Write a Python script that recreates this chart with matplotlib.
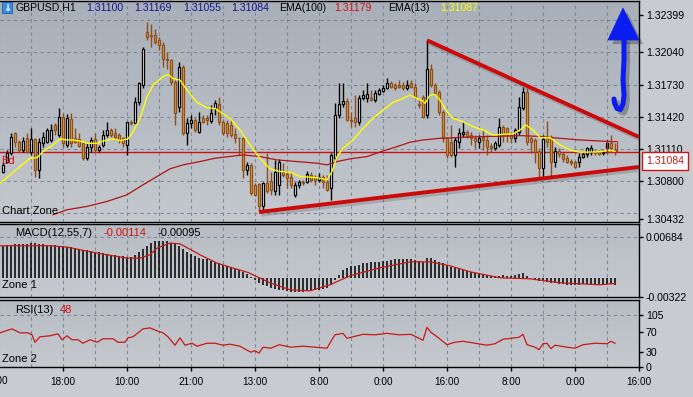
import numpy as np
import matplotlib
matplotlib.use("Agg")
import matplotlib.pyplot as plt
from matplotlib import patheffects as pe
from matplotlib.patches import Rectangle, Polygon
from matplotlib.colors import LinearSegmentedColormap
from matplotlib import font_manager as fm

# ---------------- data ----------------
opens = [1.30892, 1.30988, 1.31068, 1.31260, 1.31180, 1.31100, 1.31212, 1.31084, 1.31206, 1.30908,
         1.31164, 1.31180, 1.31196, 1.31340, 1.31244, 1.31420, 1.31148, 1.31398, 1.31212, 1.31206,
         1.31164, 1.31020, 1.31132, 1.31206, 1.31100, 1.31148, 1.31244, 1.31292, 1.31260, 1.31244,
         1.31212, 1.31148, 1.31372, 1.31356, 1.31564, 1.31724, 1.32236, 1.32204, 1.32204, 1.32156,
         1.32108, 1.31980, 1.31964, 1.31756, 1.31516, 1.31900, 1.31260, 1.31356, 1.31388, 1.31276,
         1.31404, 1.31404, 1.31378, 1.31500, 1.31538, 1.31372, 1.31356, 1.31340, 1.31250, 1.31218,
         1.31218, 1.30908, 1.30956, 1.30764, 1.30770, 1.30556, 1.30780, 1.30802, 1.30700, 1.30764,
         1.30892, 1.30866, 1.30844, 1.30668, 1.30758, 1.30796, 1.30796, 1.30860, 1.30844, 1.30812,
         1.30844, 1.30796, 1.30732, 1.31020, 1.31436, 1.31538, 1.31570, 1.31388, 1.31404, 1.31372,
         1.31596, 1.31602, 1.31602, 1.31580, 1.31634, 1.31666, 1.31698, 1.31740, 1.31724, 1.31724,
         1.31724, 1.31692, 1.31740, 1.31708, 1.31538, 1.31612, 1.31436, 1.31884, 1.31724, 1.31660,
         1.31468, 1.31212, 1.31180, 1.31052, 1.31180, 1.31250, 1.31270, 1.31244, 1.31218, 1.31180,
         1.31228, 1.31196, 1.31142, 1.31116, 1.31148, 1.31324, 1.31308, 1.31244, 1.31212, 1.31276,
         1.31506, 1.31660, 1.31212, 1.31196, 1.31090, 1.30924, 1.31228, 1.31212, 1.30988, 1.31090,
         1.31058, 1.31026, 1.30994, 1.30988, 1.30988, 1.31036, 1.31058, 1.31084, 1.31090, 1.31084,
         1.31068, 1.31116, 1.31164, 1.31100]
highs = [1.30988, 1.31100, 1.31260, 1.31270, 1.31196, 1.31228, 1.31260, 1.31308, 1.31212, 1.31212,
         1.31276, 1.31308, 1.31346, 1.31356, 1.31506, 1.31452, 1.31442, 1.31452, 1.31308, 1.31260,
         1.31180, 1.31164, 1.31228, 1.31260, 1.31148, 1.31292, 1.31372, 1.31308, 1.31308, 1.31260,
         1.31228, 1.31372, 1.31388, 1.31612, 1.31756, 1.32092, 1.32332, 1.32316, 1.32268, 1.32188,
         1.32140, 1.32044, 1.31980, 1.31772, 1.31948, 1.31916, 1.31404, 1.31436, 1.31404, 1.31468,
         1.31436, 1.31436, 1.31532, 1.31580, 1.31612, 1.31388, 1.31388, 1.31388, 1.31308, 1.31228,
         1.31228, 1.30988, 1.30972, 1.30780, 1.30780, 1.30796, 1.31068, 1.30892, 1.31004, 1.31014,
         1.30972, 1.30908, 1.30892, 1.30796, 1.30812, 1.30812, 1.30898, 1.30892, 1.30860, 1.30876,
         1.30860, 1.30860, 1.31068, 1.31548, 1.31740, 1.31740, 1.31596, 1.31468, 1.31628, 1.31628,
         1.31676, 1.31740, 1.31676, 1.31676, 1.31692, 1.31724, 1.31794, 1.31762, 1.31740, 1.31772,
         1.31756, 1.31772, 1.31772, 1.31740, 1.31580, 1.31628, 1.32156, 1.31932, 1.31740, 1.31676,
         1.31484, 1.31228, 1.31340, 1.31228, 1.31308, 1.31372, 1.31292, 1.31276, 1.31244, 1.31244,
         1.31292, 1.31244, 1.31164, 1.31186, 1.31404, 1.31340, 1.31324, 1.31276, 1.31308, 1.31612,
         1.31708, 1.31692, 1.31228, 1.31218, 1.31116, 1.31244, 1.31378, 1.31244, 1.31132, 1.31116,
         1.31084, 1.31052, 1.31014, 1.30994, 1.31068, 1.31084, 1.31132, 1.31148, 1.31100, 1.31100,
         1.31100, 1.31196, 1.31244, 1.31169]
lows = [1.30876, 1.30972, 1.31052, 1.31132, 1.31084, 1.31084, 1.31068, 1.31052, 1.30844, 1.30828,
        1.31132, 1.31164, 1.31180, 1.31244, 1.31228, 1.31132, 1.31132, 1.31132, 1.31164, 1.31132,
        1.31004, 1.31004, 1.31084, 1.31084, 1.31084, 1.31132, 1.31228, 1.31228, 1.31196, 1.31164,
        1.31132, 1.31052, 1.31340, 1.31356, 1.31532, 1.31692, 1.32156, 1.32092, 1.32124, 1.32060,
        1.31900, 1.31884, 1.31724, 1.31340, 1.31468, 1.31244, 1.31148, 1.31308, 1.31276, 1.31260,
        1.31356, 1.31340, 1.31356, 1.31436, 1.31340, 1.31244, 1.31228, 1.31228, 1.31164, 1.31052,
        1.30828, 1.30860, 1.30668, 1.30652, 1.30508, 1.30508, 1.30684, 1.30668, 1.30668, 1.30668,
        1.30844, 1.30732, 1.30732, 1.30642, 1.30732, 1.30764, 1.30780, 1.30796, 1.30764, 1.30796,
        1.30732, 1.30700, 1.30620, 1.30988, 1.31404, 1.31516, 1.31378, 1.31324, 1.31324, 1.31340,
        1.31580, 1.31564, 1.31570, 1.31564, 1.31628, 1.31654, 1.31686, 1.31692, 1.31676, 1.31692,
        1.31676, 1.31676, 1.31692, 1.31596, 1.31500, 1.31404, 1.31404, 1.31708, 1.31628, 1.31436,
        1.31180, 1.31020, 1.31036, 1.30940, 1.31116, 1.31228, 1.31212, 1.31148, 1.31116, 1.31116,
        1.31100, 1.31052, 1.31084, 1.31100, 1.31132, 1.31180, 1.31180, 1.31164, 1.31180, 1.31244,
        1.31484, 1.31148, 1.31068, 1.30972, 1.30828, 1.30844, 1.31132, 1.30844, 1.30940, 1.31036,
        1.30988, 1.30972, 1.30956, 1.30924, 1.30940, 1.31020, 1.31036, 1.31052, 1.31052, 1.31052,
        1.31052, 1.31068, 1.31084, 1.31055]
closes = [1.30956, 1.31068, 1.31228, 1.31180, 1.31100, 1.31186, 1.31084, 1.31206, 1.30908, 1.31180,
          1.31228, 1.31292, 1.31292, 1.31292, 1.31420, 1.31164, 1.31404, 1.31164, 1.31180, 1.31142,
          1.31020, 1.31132, 1.31196, 1.31100, 1.31132, 1.31244, 1.31292, 1.31244, 1.31228, 1.31196,
          1.31164, 1.31372, 1.31356, 1.31564, 1.31740, 1.32076, 1.32188, 1.32198, 1.32140, 1.32108,
          1.31974, 1.31964, 1.31756, 1.31452, 1.31900, 1.31260, 1.31356, 1.31388, 1.31292, 1.31372,
          1.31372, 1.31388, 1.31452, 1.31548, 1.31372, 1.31260, 1.31260, 1.31244, 1.31212, 1.31212,
          1.30908, 1.30956, 1.30684, 1.30668, 1.30556, 1.30780, 1.30700, 1.30716, 1.30892, 1.30988,
          1.30860, 1.30828, 1.30764, 1.30764, 1.30796, 1.30780, 1.30866, 1.30812, 1.30812, 1.30844,
          1.30796, 1.30716, 1.31052, 1.31436, 1.31538, 1.31570, 1.31388, 1.31378, 1.31372, 1.31596,
          1.31628, 1.31634, 1.31580, 1.31644, 1.31676, 1.31698, 1.31740, 1.31708, 1.31692, 1.31708,
          1.31692, 1.31730, 1.31708, 1.31612, 1.31532, 1.31420, 1.31884, 1.31724, 1.31644, 1.31468,
          1.31212, 1.31052, 1.31052, 1.31196, 1.31260, 1.31270, 1.31238, 1.31212, 1.31186, 1.31218,
          1.31196, 1.31132, 1.31116, 1.31164, 1.31324, 1.31244, 1.31244, 1.31212, 1.31292, 1.31516,
          1.31660, 1.31180, 1.31180, 1.31084, 1.30924, 1.31206, 1.31180, 1.30988, 1.31090, 1.31058,
          1.31014, 1.30988, 1.30972, 1.30940, 1.31036, 1.31058, 1.31116, 1.31116, 1.31068, 1.31058,
          1.31084, 1.31164, 1.31116, 1.31084]

ema13_idx = [-0.75, 1.75, 4.25, 6.75, 8.5, 10, 12.5, 14.25, 16, 17.25, 19.25, 21, 23.5, 25, 27.5,
             29.25, 31.25, 32.5, 34.25, 36, 37.5, 40, 41.25, 42.5, 44.25, 46, 48.5, 51, 53, 54.25,
             56.75, 59.25, 61.75, 64.25, 66.75, 69.25, 71.75, 74.25, 76.75, 79.25, 81, 82.25, 83.5,
             85, 87.5, 90, 92.5, 95, 97.5, 100, 101.75, 103.5, 105, 105.5, 106.75, 108, 109.25, 111,
             112.5, 115, 117.5, 120, 122.5, 125, 127.5, 129.25, 130.75, 132.5, 134.25, 136.75,
             139.25, 141.75, 144.25, 147.5, 150, 151.25, 153]
ema13_val = [1.30780, 1.30860, 1.30940, 1.31020, 1.31025, 1.31084, 1.31148, 1.31206, 1.31196, 1.31196,
             1.31186, 1.31164, 1.31164, 1.31186, 1.31206, 1.31190, 1.31206, 1.31276, 1.31404, 1.31612,
             1.31724, 1.31804, 1.31826, 1.31788, 1.31772, 1.31676, 1.31558, 1.31506, 1.31500, 1.31468,
             1.31404, 1.31292, 1.31148, 1.31020, 1.30918, 1.30892, 1.30886, 1.30844, 1.30838, 1.30828,
             1.30812, 1.30892, 1.31036, 1.31116, 1.31196, 1.31308, 1.31404, 1.31484, 1.31558, 1.31596,
             1.31628, 1.31596, 1.31570, 1.31548, 1.31628, 1.31634, 1.31580, 1.31468, 1.31404, 1.31372,
             1.31324, 1.31292, 1.31244, 1.31250, 1.31254, 1.31292, 1.31340, 1.31292, 1.31218, 1.31218,
             1.31148, 1.31100, 1.31078, 1.31080, 1.31084, 1.31100, 1.31087]

ema100_idx = [12.5, 16, 21, 26, 31, 35, 38.5, 41.75, 45, 49.25, 53, 60, 64.25, 68.5, 73.5, 78.5, 81,
              83.5, 86.75, 91, 95, 98.5, 101.75, 105, 109.25, 114.25, 119.25, 124.25, 129.25, 134.25,
              139.25, 144.25, 149.25, 153]
ema100_val = [1.30476, 1.30524, 1.30556, 1.30604, 1.30668, 1.30764, 1.30844, 1.30918, 1.30956, 1.30988,
              1.31020, 1.31052, 1.31036, 1.31004, 1.30988, 1.30972, 1.30956, 1.30988, 1.31014, 1.31036,
              1.31090, 1.31132, 1.31174, 1.31196, 1.31212, 1.31220, 1.31228, 1.31232, 1.31238, 1.31230,
              1.31212, 1.31196, 1.31186, 1.31179]

macd_hist = [0.0054, 0.0055, 0.0055, 0.0056, 0.0056, 0.0057, 0.0057, 0.0058, 0.0058, 0.0057,
             0.0056, 0.0055, 0.0055, 0.0055, 0.0054, 0.0054, 0.0052, 0.0051, 0.0050, 0.0049,
             0.0047, 0.0046, 0.0045, 0.0044, 0.0043, 0.0041, 0.0040, 0.0039, 0.0038, 0.0037,
             0.0036, 0.0035, 0.0035, 0.0039, 0.0044, 0.0049, 0.0054, 0.0058, 0.0061, 0.0062,
             0.0062, 0.0061, 0.0059, 0.0056, 0.0053, 0.0048, 0.0044, 0.0040, 0.0036, 0.0034,
             0.0032, 0.0031, 0.0029, 0.0027, 0.0025, 0.0022, 0.0020, 0.0018, 0.0015, 0.0013,
             0.0010, 0.0006, 0.0002, -0.0003, -0.0008, -0.0012, -0.0014, -0.0017, -0.0019, -0.0020,
             -0.0021, -0.0022, -0.0023, -0.0023, -0.0023, -0.0023, -0.0022, -0.0022, -0.0021, -0.0020,
             -0.0018, -0.0017, -0.0012, -0.0004, 0.0005, 0.0013, 0.0017, 0.0019, 0.0020, 0.0022,
             0.0024, 0.0025, 0.0026, 0.0027, 0.0027, 0.0028, 0.0029, 0.0030, 0.0031, 0.0032,
             0.0032, 0.0031, 0.0031, 0.0030, 0.0029, 0.0027, 0.0034, 0.0033, 0.0030, 0.0027,
             0.0024, 0.0021, 0.0018, 0.0017, 0.0015, 0.0013, 0.0011, 0.0010, 0.0008, 0.0007,
             0.0005, 0.0004, 0.0003, 0.0003, 0.0003, 0.0004, 0.0003, 0.0003, 0.0005, 0.0007,
             0.0008, 0.0003, 0.0000, -0.0003, -0.0005, -0.0006, -0.0007, -0.0008, -0.0009, -0.0010,
             -0.0011, -0.0012, -0.0012, -0.0012, -0.0012, -0.0011, -0.0011, -0.0010, -0.0010, -0.0010,
             -0.0010, -0.0011, -0.0011, -0.00114]
signal_idx = [-0.75, 11.75, 16, 23.5, 31, 34.25, 36.75, 38.5, 41.75, 44.25, 49.25, 53.5, 57.5, 61.25,
              66.75, 71.75, 76.75, 81.75, 86.75, 94.25, 101.75, 106.75, 111.75, 116.75, 124.25,
              131.75, 139.25, 149.25, 153]
signal_val = [0.00537, 0.00537, 0.00515, 0.00414, 0.00330, 0.00330, 0.00386, 0.00498, 0.00582, 0.00570,
              0.00386, 0.00246, 0.00163, 0.00089, -0.00084, -0.00201, -0.00218, -0.00117, 0.00034,
              0.00168, 0.00268, 0.00268, 0.00201, 0.00101, 0.00000, -0.00017, -0.00084, -0.00117,
              -0.00095]

rsi_idx = [-0.75, 2.25, 4.25, 6.25, 7.25, 8, 9.25, 11.75, 13.75, 14.75, 16, 17.25, 18.75, 20, 21.75,
           23.5, 25, 27.5, 28.75, 30.5, 31.25, 32.5, 35, 36.75, 38.5, 40, 41.25, 43, 44.25, 45.5,
           47.25, 48.5, 51, 53, 55, 56.75, 59.25, 61, 62, 63, 64, 65, 67, 69, 72, 75, 78, 81, 82, 83,
           85, 86, 88, 90, 93, 96, 99, 102, 104, 105, 106, 107, 109, 111, 113, 115, 118, 121, 123,
           125, 129, 130, 131, 133, 134, 135, 136, 137, 138, 141, 143, 145, 148, 151, 152, 153]
rsi_val = [69, 77, 69, 69, 65, 50, 61, 63, 67, 55, 63, 55, 55, 48, 55, 50, 57, 57, 50, 50, 59, 61, 77,
           79, 73, 69, 61, 44, 59, 44, 48, 42, 48, 48, 44, 46, 42, 34, 30, 33, 28, 40, 38, 45, 40, 42,
           40, 38, 52, 65, 68, 58, 62, 66, 65, 68, 65, 66, 58, 54, 80, 70, 58, 45, 50, 52, 48, 44, 47,
           56, 60, 66, 45, 40, 35, 47, 48, 37, 44, 40, 38, 45, 48, 47, 52, 48]

time_idx = [15, 31, 47, 63, 79, 95, 111, 127, 143, 159]
time_labels = ["18:00", "10:00", "21:00", "13:00", "8:00", "0:00", "16:00", "8:00", "0:00", "16:00"]
first_time_label = "2:00"

price_ticks = [1.32399, 1.32040, 1.31730, 1.31420, 1.31110, 1.30800, 1.30432]
price_grid = [1.32350, 1.32040, 1.31730, 1.31420, 1.31110, 1.30800, 1.30490]
macd_ticks = [0.00684, -0.00322]
rsi_ticks = [105, 70, 30, 0]
last_price = 1.31084
upper_trend = ([106, 159], [1.32156, 1.31225])
lower_trend = ([64, 159], [1.30502, 1.30936])

# ---------------- figure ----------------
W, H = 693, 397
fig = plt.figure(figsize=(W / 100, H / 100), dpi=100)
fig.patch.set_facecolor('#C8CCD1')

names = {f.name for f in fm.fontManager.ttflist}
if 'Liberation Sans Narrow' in names:
    AX_FONT, AX_SIZE, X_SIZE = 'Liberation Sans Narrow', 9.0, 8.6
else:
    AX_FONT, AX_SIZE, X_SIZE = 'Liberation Sans', 7.6, 7.2
TXT_FONT = 'Liberation Sans' if 'Liberation Sans' in names else 'DejaVu Sans'


def rect(x0, y0, x1, y1):
    return [x0 / W, 1 - y1 / H, (x1 - x0) / W, (y1 - y0) / H]


ax = fig.add_axes(rect(0, 0.5, 639, 222))
axm = fig.add_axes(rect(0, 224, 639, 297))
axr = fig.add_axes(rect(0, 300, 639, 367))

XLIM = (-0.75, 159)
GRID = '#7E8898'
DASH = (0, (3, 3))
grid_idx = np.arange(-1, 160, 8)


def style(a, c_top, c_bot, ylim):
    cm = LinearSegmentedColormap.from_list('bg', [c_top, c_bot])
    a.imshow(np.linspace(0, 1, 256).reshape(-1, 1), cmap=cm, aspect='auto',
             extent=(0, 1, 0, 1), transform=a.transAxes, zorder=0)
    a.set_xlim(*XLIM)
    a.set_ylim(*ylim)
    a.spines['left'].set_visible(False)
    for s in ('right', 'top', 'bottom'):
        a.spines[s].set_color('black')
        a.spines[s].set_linewidth(1.0)
    a.yaxis.tick_right()
    a.tick_params(axis='y', direction='out', length=3, width=1, colors='black', pad=2,
                  labelsize=AX_SIZE, labelfontfamily=AX_FONT)
    a.tick_params(axis='x', length=0, labelbottom=False)
    for g in grid_idx:
        a.axvline(g, color=GRID, lw=0.8, ls=DASH, zorder=1)


style(ax, '#A8AFB9', '#C4C8CE', (1.30406, 1.32539))
style(axm, '#B7BCC4', '#C6CACF', (-0.00322, 0.00902))
style(axr, '#B7BCC4', '#C6CACF', (0, 135.3))

# main panel
for g in price_grid:
    ax.axhline(g, color=GRID, lw=0.8, ls=DASH, zorder=1)
ax.set_yticks(price_ticks)
ax.set_yticklabels([f"{v:.5f}" for v in price_ticks])

o = np.array(opens); h = np.array(highs); l = np.array(lows); c = np.array(closes)
idx = np.arange(len(o))
bull = c >= o
BEAR_FACE = '#F2A22A'
BEAR_EDGE = '#8E4E1C'
wick_cols = np.where(bull, 'black', BEAR_EDGE)
ax.axhline(last_price, color='#D01010', lw=1.0, zorder=2)
ax.vlines(idx, l, h, colors=wick_cols, lw=1.0, zorder=3)
ax.bar(idx, np.abs(c - o), bottom=np.minimum(o, c), width=0.74,
       color=np.where(bull, 'white', BEAR_FACE), edgecolor=np.where(bull, 'black', BEAR_EDGE),
       lw=0.9, zorder=4)
ax.plot(ema100_idx, ema100_val, color='#B01515', lw=0.9, zorder=5)
ax.plot(ema13_idx, ema13_val, color='#FFFF00', lw=1.0, zorder=5)

shadow = [pe.SimpleLineShadow(offset=(1.5, -2.0), shadow_color='#3A3F48', alpha=0.22), pe.Normal()]
for xs, ys in (upper_trend, lower_trend):
    ax.plot(xs, ys, color='#CC0A0A', lw=2.8, solid_capstyle='butt', zorder=6, path_effects=shadow)

# MACD panel
axm.axhline(0.00684, color=GRID, lw=0.8, ls=DASH, zorder=1)
axm.vlines(idx, 0, macd_hist, colors='black', lw=1.1, zorder=3)
axm.plot(signal_idx, signal_val, color='#C81818', lw=0.9, zorder=4)
axm.set_yticks(macd_ticks)
axm.set_yticklabels([f"{v:.5f}" for v in macd_ticks])

# RSI panel
axr.axhline(105, color=GRID, lw=0.8, ls=DASH, zorder=1)
axr.plot(rsi_idx, rsi_val, color='#C81818', lw=0.9, zorder=4)
axr.set_yticks(rsi_ticks)
axr.set_yticklabels([str(v) for v in rsi_ticks])
axr.set_xticks(time_idx)
axr.set_xticklabels(time_labels)
axr.tick_params(axis='x', length=3, width=1, direction='out', labelbottom=True, labelsize=X_SIZE,
                pad=4, labelfontfamily=AX_FONT, colors='black')

# ---------------- overlay (pixel coords) ----------------
ov = fig.add_axes([0, 0, 1, 1], zorder=20)
ov.set_xlim(0, W)
ov.set_ylim(H, 0)
ov.axis('off')
ov.patch.set_alpha(0)

def t(x, y, s, color='black', size=7.6, family=TXT_FONT, ha='left'):
    ov.text(x, y, s, color=color, fontsize=size, family=family, ha=ha, va='center')

# header
ov.add_patch(Rectangle((2, 2), 10, 11, facecolor='#3C8EDC', edgecolor='#1C5CA8', lw=0.6))
ov.text(7, 7.6, '\u2193', color='white', fontsize=7, ha='center', va='center',
        family='DejaVu Sans', fontweight='bold')
NAVY = '#14148C'
t(15, 8, 'GBPUSD,H1')
t(86, 8, '1.31100', NAVY)
t(134, 8, '1.31169', NAVY)
t(183, 8, '1.31055', NAVY)
t(231, 8, '1.31084', NAVY)
t(279, 8, 'EMA(100)')
t(334, 8, '1.31179', '#D01010')
t(388, 8, 'EMA(13)')
t(440, 8, '1.31087', '#FFFF00')

t(2, 211, 'Chart Zone', size=8)
t(1, 161, 'Bd', '#D01010', size=8)
t(15, 233, 'MACD(12,55,7)', size=8)
t(103, 233, '-0.00114', '#D01010', size=8)
t(157, 233, '-0.00095', size=8)
t(2, 285, 'Zone 1', size=8)
t(15, 310, 'RSI(13)', size=8)
t(60, 310, '48', '#D01010', size=8)
t(2, 359, 'Zone 2', size=8)
ov.text(8, 380.5, first_time_label, color='black', fontsize=X_SIZE, family=AX_FONT,
        ha='right', va='center')

# last price box
ov.add_patch(Rectangle((642, 152), 46, 18, facecolor='white', edgecolor='#C81818', lw=1.0))
ov.text(665, 161, '1.31084', color='#C81818', fontsize=AX_SIZE, family=AX_FONT,
        ha='center', va='center')
ov.add_patch(Rectangle((607, 141), 10, 11, fill=False, edgecolor='#C82020', lw=0.8))

# blue arrow
BLUE = '#0A1CF0'
head = Polygon([(623, 8), (608, 40), (639, 40)], closed=True, facecolor=BLUE, edgecolor=BLUE,
               lw=0.5, path_effects=[pe.SimplePatchShadow(offset=(3, -3), shadow_rgbFace='#303030',
                                                          alpha=0.35), pe.Normal()])
ov.add_patch(head)
ov.plot([624, 624, 623, 624, 623, 620.5, 617, 614.5, 614],
        [40, 60, 80, 95, 104, 109.5, 108.5, 103, 99],
        color=BLUE, lw=3.6, solid_capstyle='round', solid_joinstyle='round',
        path_effects=[pe.SimpleLineShadow(offset=(2.5, -2.5), shadow_color='#303030', alpha=0.35),
                      pe.Normal()])

fig.savefig('out.png', dpi=100, facecolor=fig.get_facecolor())
